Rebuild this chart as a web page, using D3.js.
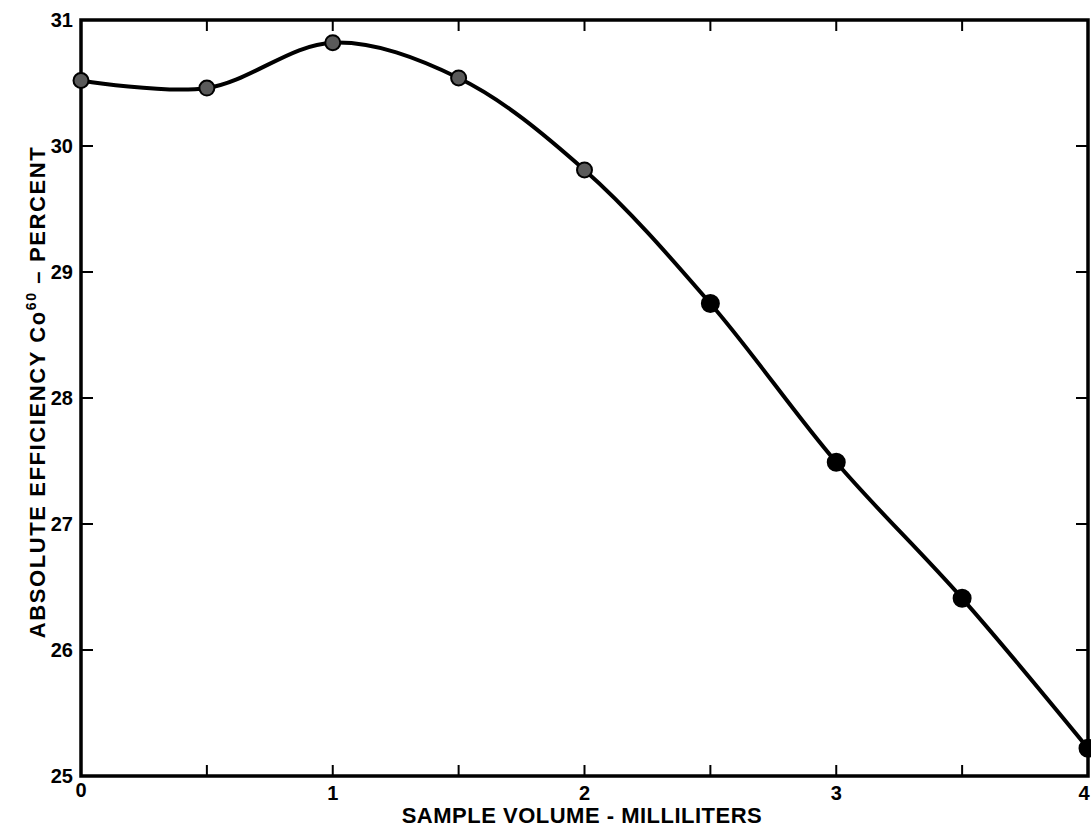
<!DOCTYPE html>
<html>
<head>
<meta charset="utf-8">
<script src="https://cdn.jsdelivr.net/npm/d3@7"></script>
<style>
  body { margin: 0; background: #fff; }
  text { font-family: "Liberation Sans", Arial, sans-serif; font-weight: bold; fill: #000; }
</style>
</head>
<body>
<div id="chart"></div>
<script>
// sample volume (ml) vs absolute efficiency (%)
const volumes = [0, 0.5, 1, 1.5, 2, 2.5, 3, 3.5, 4];
const efficiency = [30.52, 30.46, 30.82, 30.54, 29.81, 28.75, 27.49, 26.41, 25.22];
// first five points drawn as stippled circles, rest solid
const pointKind = ["open", "open", "open", "open", "open", "solid", "solid", "solid", "solid"];
const xTickLabels = [0, 1, 2, 3, 4];
const yTickLabels = [25, 26, 27, 28, 29, 30, 31];

const width = 1091, height = 831;
const margin = { left: 81, right: 3, top: 20, bottom: 55 };

const svg = d3.select("#chart")
    .append("svg")
        .attr("width", width)
        .attr("height", height);

const x = d3.scaleLinear().domain([0, 4]).range([margin.left, width - margin.right]);
const y = d3.scaleLinear().domain([25, 31]).range([height - margin.bottom, margin.top]);

// frame
svg.append("rect")
    .attr("x", x(0))
    .attr("y", y(31))
    .attr("width", x(4) - x(0))
    .attr("height", y(25) - y(31))
    .attr("fill", "none")
    .attr("stroke", "#000")
    .attr("stroke-width", 3.5);

// inward ticks
const halfTicks = d3.range(0.5, 4, 0.5);
svg.selectAll("line.bt")
    .data(halfTicks)
    .enter()
    .append("line")
        .attr("x1", d => x(d)).attr("x2", d => x(d))
        .attr("y1", y(25)).attr("y2", y(25) - 11)
        .attr("stroke", "#000").attr("stroke-width", 2);

svg.selectAll("line.tt")
    .data(halfTicks)
    .enter()
    .append("line")
        .attr("x1", d => x(d)).attr("x2", d => x(d))
        .attr("y1", y(31)).attr("y2", y(31) + 11)
        .attr("stroke", "#000").attr("stroke-width", 2);

const innerY = yTickLabels.slice(1, -1);
svg.selectAll("line.lt")
    .data(innerY)
    .enter()
    .append("line")
        .attr("x1", x(0)).attr("x2", x(0) + 12)
        .attr("y1", d => y(d)).attr("y2", d => y(d))
        .attr("stroke", "#000").attr("stroke-width", 2);

svg.selectAll("line.rt")
    .data(innerY)
    .enter()
    .append("line")
        .attr("x1", x(4)).attr("x2", x(4) - 12)
        .attr("y1", d => y(d)).attr("y2", d => y(d))
        .attr("stroke", "#000").attr("stroke-width", 2);

// tick labels
svg.selectAll("text.yl")
    .data(yTickLabels)
    .enter()
    .append("text")
        .attr("x", x(0) - 8)
        .attr("y", d => y(d) + 7)
        .attr("text-anchor", "end")
        .style("font-size", "20px")
        .text(d => d);

svg.selectAll("text.xl")
    .data(xTickLabels)
    .enter()
    .append("text")
        .attr("x", d => d === 4 ? x(d) - 4 : x(d))
        .attr("y", d => d === 0 ? y(25) + 21 : y(25) + 24)
        .attr("text-anchor", "middle")
        .style("font-size", "20px")
        .text(d => d);

// axis titles
svg.append("text")
    .attr("x", 582)
    .attr("y", 823)
    .attr("text-anchor", "middle")
    .style("font-size", "22px")
    .style("letter-spacing", "0.5px")
    .text("SAMPLE VOLUME - MILLILITERS");

const yTitle = svg.append("text")
    .attr("transform", "translate(45 392) rotate(-90)")
    .attr("text-anchor", "middle")
    .style("font-size", "22px")
    .style("letter-spacing", "1.6px");
yTitle.append("tspan").text("ABSOLUTE EFFICIENCY Co");
yTitle.append("tspan").attr("dy", -9).style("font-size", "14px").text("60");
yTitle.append("tspan").attr("dy", 9).text("  \u2013  PERCENT");

// curve
const pts = volumes.map((v, i) => [v, efficiency[i]]);
const line = d3.line()
    .x(d => x(d[0]))
    .y(d => y(d[1]))
    .curve(d3.curveCatmullRom.alpha(0.5));

svg.append("path")
    .datum(pts)
    .attr("d", line)
    .attr("fill", "none")
    .attr("stroke", "#000")
    .attr("stroke-width", 4);

// points
svg.selectAll("circle.pt")
    .data(pts)
    .enter()
    .append("circle")
        .attr("cx", d => x(d[0]))
        .attr("cy", d => y(d[1]))
        .attr("r", (d, i) => pointKind[i] === "solid" ? 8.5 : 7.5)
        .attr("fill", (d, i) => pointKind[i] === "solid" ? "#000" : "#5a5a5a")
        .attr("stroke", "#000")
        .attr("stroke-width", 2);
</script>
</body>
</html>
